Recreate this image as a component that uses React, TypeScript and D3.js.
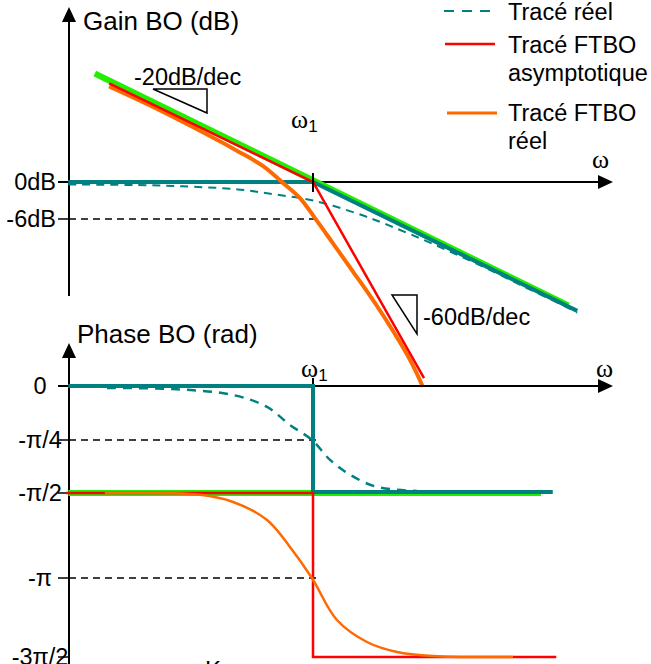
import React from "react";
import * as d3 from "d3";

const W = 651;
const H = 664;

// frequencies are in units of omega1, gain in dB, phase in rad
const gainTicks = [0, -6];
const gainTickLabels = ["0dB", "-6dB"];
const phaseTicks = [0, -Math.PI / 4, -Math.PI / 2, -Math.PI, (-3 * Math.PI) / 2];
const phaseTickLabels = ["0", "-π/4", "-π/2", "-π", "-3π/2"];

const legendLabels = [["Tracé réel"], ["Tracé FTBO", "asymptotique"], ["Tracé FTBO", "réel"]];

// gain curves
const gainGreen = [
  { w: 0.134, v: 17.6 },
  { w: 10.5, v: -20.0 },
];
const gainTeal = [
  { w: 0.105, v: 0 },
  { w: 1, v: 0 },
  { w: 11.4, v: -20.9 },
];
const gainTealReal = [
  { w: 0.105, v: -0.4 },
  { w: 0.2, v: -0.5 },
  { w: 0.3, v: -0.7 },
  { w: 0.5, v: -1.2 },
  { w: 0.7, v: -2.0 },
  { w: 1, v: -3.0 },
  { w: 1.5, v: -5.1 },
  { w: 2, v: -7.0 },
  { w: 3, v: -10.0 },
  { w: 5, v: -14.1 },
  { w: 7, v: -17.0 },
  { w: 10, v: -20.0 },
  { w: 11.4, v: -21.2 },
];
const gainRed = [
  { w: 0.153, v: 16.0 },
  { w: 1, v: 0 },
  { w: 2.78, v: -31.8 },
];
const gainOrange = [
  { w: 0.153, v: 15.5 },
  { w: 0.223, v: 12.4 },
  { w: 0.353, v: 8.3 },
  { w: 0.5, v: 5.0 },
  { w: 0.63, v: 2.6 },
  { w: 0.751, v: 0 },
  { w: 0.887, v: -2.6 },
  { w: 1.02, v: -5.9 },
  { w: 1.2, v: -9.9 },
  { w: 1.45, v: -14.6 },
  { w: 1.85, v: -20.8 },
  { w: 2.44, v: -28.8 },
  { w: 2.75, v: -33.2 },
];

// phase curves
const phaseGreen = [
  { w: 0.105, v: -Math.PI / 2 },
  { w: 8.17, v: -Math.PI / 2 },
];
const phaseTeal = [
  { w: 0.105, v: 0 },
  { w: 1, v: 0 },
  { w: 1, v: -1.555 },
  { w: 9.1, v: -1.555 },
];
const phaseRed = [
  { w: 0.103, v: -Math.PI / 2 },
  { w: 1, v: -Math.PI / 2 },
  { w: 1, v: (-3 * Math.PI) / 2 },
  { w: 9.4, v: (-3 * Math.PI) / 2 },
];
const phaseTealReal = [
  { w: 0.15, v: -0.03 },
  { w: 0.275, v: -0.044 },
  { w: 0.479, v: -0.131 },
  { w: 0.655, v: -0.305 },
  { w: 0.809, v: -0.567 },
  { w: 0.99, v: -0.785 },
  { w: 1.17, v: -1.08 },
  { w: 1.406, v: -1.3 },
  { w: 1.8, v: -1.48 },
  { w: 2.61, v: -1.54 },
];
const phaseOrange = [
  { w: 0.147, v: -1.571 },
  { w: 0.353, v: -1.605 },
  { w: 0.479, v: -1.737 },
  { w: 0.655, v: -2.07 },
  { w: 0.809, v: -2.569 },
  { w: 0.99, v: -3.142 },
  { w: 1.247, v: -3.977 },
  { w: 1.644, v: -4.414 },
  { w: 2.168, v: -4.613 },
  { w: 3.02, v: -4.693 },
  { w: 6.31, v: -4.712 },
];

const TEAL = "#008080";
const GREEN = "#22ee00";
const RED = "#ff0000";
const ORANGE = "#ff6a00";
const SANS = "Liberation Sans, Arial, sans-serif";
const SERIF = "Liberation Serif, Times New Roman, serif";

export default function App() {
  const axisX = 69;
  const x = d3.scaleLog().domain([0.1, Math.pow(10, 1.2)]).range([63, 613]);
  const yG = d3.scaleLinear().domain([0, -6]).range([182, 219]);
  const yP = d3.scaleLinear().domain(phaseTicks).range([386, 440, 493, 578, 657]);

  const lineG = d3.line<{ w: number; v: number }>().x((d) => x(d.w)).y((d) => yG(d.v));
  const curveG = d3
    .line<{ w: number; v: number }>()
    .x((d) => x(d.w))
    .y((d) => yG(d.v))
    .curve(d3.curveCatmullRom.alpha(0.5));
  const lineP = d3.line<{ w: number; v: number }>().x((d) => x(d.w)).y((d) => yP(d.v));
  const curveP = d3
    .line<{ w: number; v: number }>()
    .x((d) => x(d.w))
    .y((d) => yP(d.v))
    .curve(d3.curveCatmullRom.alpha(0.5));

  const w1 = x(1);
  const xEnd = 613;

  const omegaLabel = (lx: number, ly: number, sub: boolean) => (
    <text x={lx} y={ly} fontFamily={SERIF} fontSize={26}>
      ω
      {sub && (
        <tspan fontFamily={SANS} fontSize={17} dy={4}>
          1
        </tspan>
      )}
    </text>
  );

  return (
    <svg
      width={W}
      height={H}
      style={{ position: "absolute", left: 0, top: 0, background: "#fff" }}
      fontFamily={SANS}
    >
      {/* legend */}
      <line x1={444} x2={495} y1={11} y2={11} stroke={TEAL} strokeWidth={2} strokeDasharray="10,8" />
      <line x1={445} x2={495} y1={44} y2={44} stroke={RED} strokeWidth={2.5} />
      <line x1={447} x2={497} y1={113} y2={113} stroke={ORANGE} strokeWidth={3} />
      {legendLabels.map((lines, i) =>
        lines.map((t, j) => (
          <text key={`${i}-${j}`} x={508} y={[12, 45, 113][i] + j * 28} dy="0.35em" fontSize={23.5}>
            {t}
          </text>
        ))
      )}

      {/* gain axes */}
      <text x={83} y={30} fontSize={26}>
        Gain BO (dB)
      </text>
      <line x1={axisX} x2={axisX} y1={20} y2={296} stroke="#000" strokeWidth={2} />
      <path d={`M${axisX},7L${axisX - 7},22L${axisX + 7},22Z`} fill="#000" />
      <line x1={58} x2={xEnd - 14} y1={yG(0)} y2={yG(0)} stroke="#000" strokeWidth={2} />
      <path d={`M${xEnd},${yG(0)}L${xEnd - 15},${yG(0) - 7}L${xEnd - 15},${yG(0) + 7}Z`} fill="#000" />
      {gainTicks.map((t, i) => (
        <g key={t}>
          <line x1={58} x2={axisX} y1={yG(t)} y2={yG(t)} stroke="#000" strokeWidth={1.5} />
          <text x={56} y={yG(t)} dy="0.35em" textAnchor="end" fontSize={23.5}>
            {gainTickLabels[i]}
          </text>
        </g>
      ))}
      <line x1={axisX} x2={w1 + 3} y1={yG(-6)} y2={yG(-6)} stroke="#000" strokeWidth={1.5} strokeDasharray="7,5" />
      {omegaLabel(291, 128, true)}
      {omegaLabel(592, 168, false)}

      {/* slope marks */}
      <path d="M153,89L207,89L207,113Z" fill="none" stroke="#000" strokeWidth={1.5} />
      <text x={134} y={85} fontSize={23.5}>
        -20dB/dec
      </text>
      <path d="M392,295L417,295L417,334Z" fill="none" stroke="#000" strokeWidth={1.5} />
      <text x={423} y={317} dy="0.35em" fontSize={23.5}>
        -60dB/dec
      </text>

      {/* gain curves */}
      <path d={lineG(gainGreen) || ""} fill="none" stroke={GREEN} strokeWidth={6} />
      <path d={lineG(gainTeal) || ""} fill="none" stroke={TEAL} strokeWidth={4} />
      <path d={curveG(gainTealReal) || ""} fill="none" stroke={TEAL} strokeWidth={2} strokeDasharray="8,6" />
      <path d={curveG(gainOrange) || ""} fill="none" stroke={ORANGE} strokeWidth={4} />
      <path d={lineG(gainRed) || ""} fill="none" stroke={RED} strokeWidth={2.5} />
      <line x1={w1} x2={w1} y1={yG(0) - 9} y2={yG(0) + 10} stroke="#000" strokeWidth={2} />

      {/* phase axes */}
      <text x={77} y={343} fontSize={26}>
        Phase BO (rad)
      </text>
      <line x1={axisX} x2={axisX} y1={355} y2={H} stroke="#000" strokeWidth={2} />
      <path d={`M${axisX},343L${axisX - 7},358L${axisX + 7},358Z`} fill="#000" />
      <line x1={58} x2={xEnd - 14} y1={yP(0)} y2={yP(0)} stroke="#000" strokeWidth={2} />
      <path d={`M${xEnd},${yP(0)}L${xEnd - 15},${yP(0) - 7}L${xEnd - 15},${yP(0) + 7}Z`} fill="#000" />
      {phaseTicks.map((t, i) => (
        <g key={i}>
          <line x1={58} x2={axisX} y1={yP(t)} y2={yP(t)} stroke="#000" strokeWidth={1.5} />
          <text x={40} y={yP(t)} dy="0.35em" textAnchor="middle" fontSize={23.5}>
            {phaseTickLabels[i]}
          </text>
        </g>
      ))}
      {[phaseTicks[1], phaseTicks[3]].map((t) => (
        <line key={t} x1={axisX} x2={w1 + 3} y1={yP(t)} y2={yP(t)} stroke="#000" strokeWidth={1.5} strokeDasharray="7,5" />
      ))}
      <line x1={w1} x2={w1} y1={yP(0) - 8} y2={yP(0)} stroke="#000" strokeWidth={2} />
      {omegaLabel(301, 377, true)}
      {omegaLabel(596, 377, false)}

      {/* phase curves */}
      <path d={lineP(phaseGreen) || ""} fill="none" stroke={GREEN} strokeWidth={6} />
      <path d={lineP(phaseTeal) || ""} fill="none" stroke={TEAL} strokeWidth={4} />
      <path d={lineP(phaseRed) || ""} fill="none" stroke={RED} strokeWidth={2.5} />
      <path d={curveP(phaseTealReal) || ""} fill="none" stroke={TEAL} strokeWidth={2.5} strokeDasharray="9,7" />
      <path d={curveP(phaseOrange) || ""} fill="none" stroke={ORANGE} strokeWidth={2.5} />

      <text x={205} y={678} fontSize={24}>
        K
      </text>
    </svg>
  );
}
